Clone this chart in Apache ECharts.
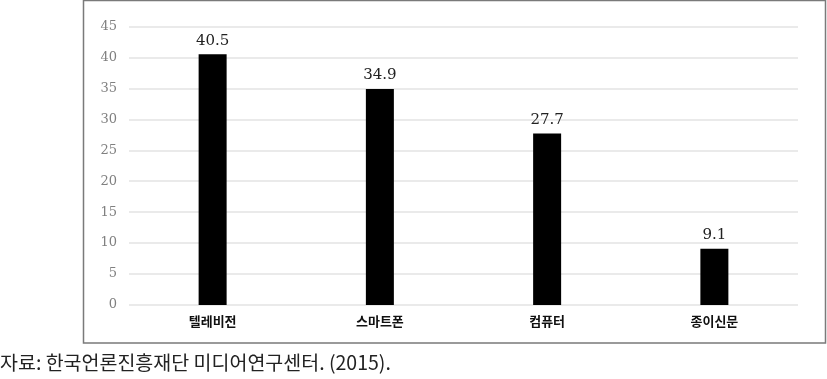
<!DOCTYPE html>
<html><head><meta charset="utf-8">
<script src="https://cdn.jsdelivr.net/npm/echarts@6/dist/echarts.min.js"></script>
<style>html,body{margin:0;padding:0;background:#fff;}#c{width:827px;height:379px;}</style>
</head><body><div id="c"></div>
<script>
const categories = ['텔레비전', '스마트폰', '컴퓨터', '종이신문'];
const values = [40.5, 34.9, 27.7, 9.1];
const yTicks = [0, 5, 10, 15, 20, 25, 30, 35, 40, 45];
const caption = '자료: 한국언론진흥재단 미디어연구센터. (2015).';

const chart = echarts.init(document.getElementById('c'), null, {renderer: 'canvas'});
chart.setOption({
  animation: false,
  backgroundColor: '#fff',
  graphic: [
    {type: 'rect', shape: {x: 83.5, y: 0.5, width: 742, height: 342.5}, style: {fill: 'none', stroke: '#7a7a7a', lineWidth: 1.5}, silent: true},
    {type: 'text', left: 0, top: 353, style: {text: caption, font: '19.5px "Noto Sans CJK KR"', fill: '#222'}}
  ],
  grid: {left: 129, right: 29, top: 26.5, bottom: 74, containLabel: false},
  xAxis: {
    type: 'category', data: categories,
    axisLine: {show: false}, axisTick: {show: false},
    axisLabel: {margin: 10, color: '#111', fontSize: 13, fontWeight: 'bold', fontFamily: '"Noto Sans CJK KR"'}
  },
  yAxis: {
    type: 'value', min: yTicks[0], max: yTicks[yTicks.length - 1], interval: 5,
    axisLine: {show: false}, axisTick: {show: false},
    axisLabel: {margin: 12, color: '#808080', fontSize: 13, fontFamily: '"DejaVu Serif", serif'},
    splitLine: {lineStyle: {color: '#e3e3e3', width: 1.5}}
  },
  series: [{
    type: 'bar', data: values, barWidth: 28,
    itemStyle: {color: '#000'},
    label: {show: true, position: 'top', distance: 6, color: '#222', fontSize: 15, fontFamily: '"DejaVu Serif", serif'}
  }]
});
</script></body></html>
